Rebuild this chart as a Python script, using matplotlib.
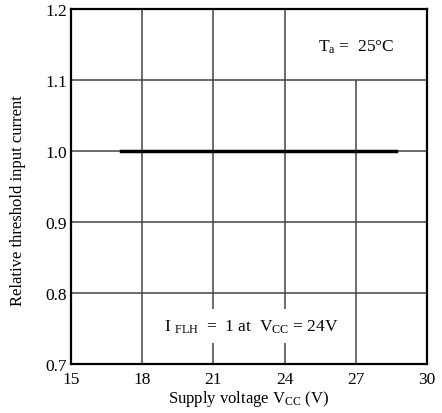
import matplotlib.pyplot as plt

# data
voltage = [17.1, 28.7]
rel_current = [1.0, 1.0]
x_ticks = [15, 18, 21, 24, 27, 30]
y_ticks = [0.7, 0.8, 0.9, 1.0, 1.1, 1.2]

plt.rcParams['font.family'] = ['Liberation Serif', 'DejaVu Serif']
plt.rcParams['mathtext.fontset'] = 'custom'
plt.rcParams['mathtext.rm'] = 'Liberation Serif'
plt.rcParams['mathtext.it'] = 'Liberation Serif'

fig = plt.figure(figsize=(4.42, 4.14), dpi=100)
ax = fig.add_axes([71 / 442, 49 / 414, 356 / 442, 355 / 414])

ax.set_xlim(15, 30)
ax.set_ylim(0.7, 1.2)

grid_kw = dict(color='#444444', linewidth=1.1, zorder=1)
for y in y_ticks[1:-1]:
    ax.hlines(y, 15, 30, **grid_kw)
for x in x_ticks[1:-1]:
    top = 1.1 if x == 27 else 1.2
    ax.vlines(x, 0.7, top, **grid_kw)

ax.plot(voltage, rel_current, color='black', linewidth=2.5, zorder=3)

ax.text(27.0, 1.148, r'T$_{\mathrm{a}}$ =  25°C', ha='center', va='center', fontsize=12.5, zorder=4)
ax.text(22.6, 0.753, r'I $_{\mathrm{FLH}}$  =  1 at  V$_{\mathrm{CC}}$ = 24V', ha='center', va='center',
        fontsize=12.5, zorder=4,
        bbox=dict(facecolor='white', edgecolor='none', pad=6))

ax.set_xticks(x_ticks)
ax.set_yticks(y_ticks)
ax.set_xticklabels([str(v) for v in x_ticks])
ax.set_yticklabels([f'{v:.1f}' for v in y_ticks])
ax.tick_params(axis='y', length=0, labelsize=12.5, pad=3)
ax.tick_params(axis='x', length=0, labelsize=12.5, pad=5)

for s in ax.spines.values():
    s.set_linewidth(1.6)

ax.set_xlabel(r'Supply voltage V$_{\mathrm{CC}}$ (V)', fontsize=12, labelpad=1)
ax.set_ylabel('Relative threshold input current', fontsize=12)
ax.yaxis.set_label_coords(-0.125, 0.462)

fig.savefig('out.png', dpi=100)
